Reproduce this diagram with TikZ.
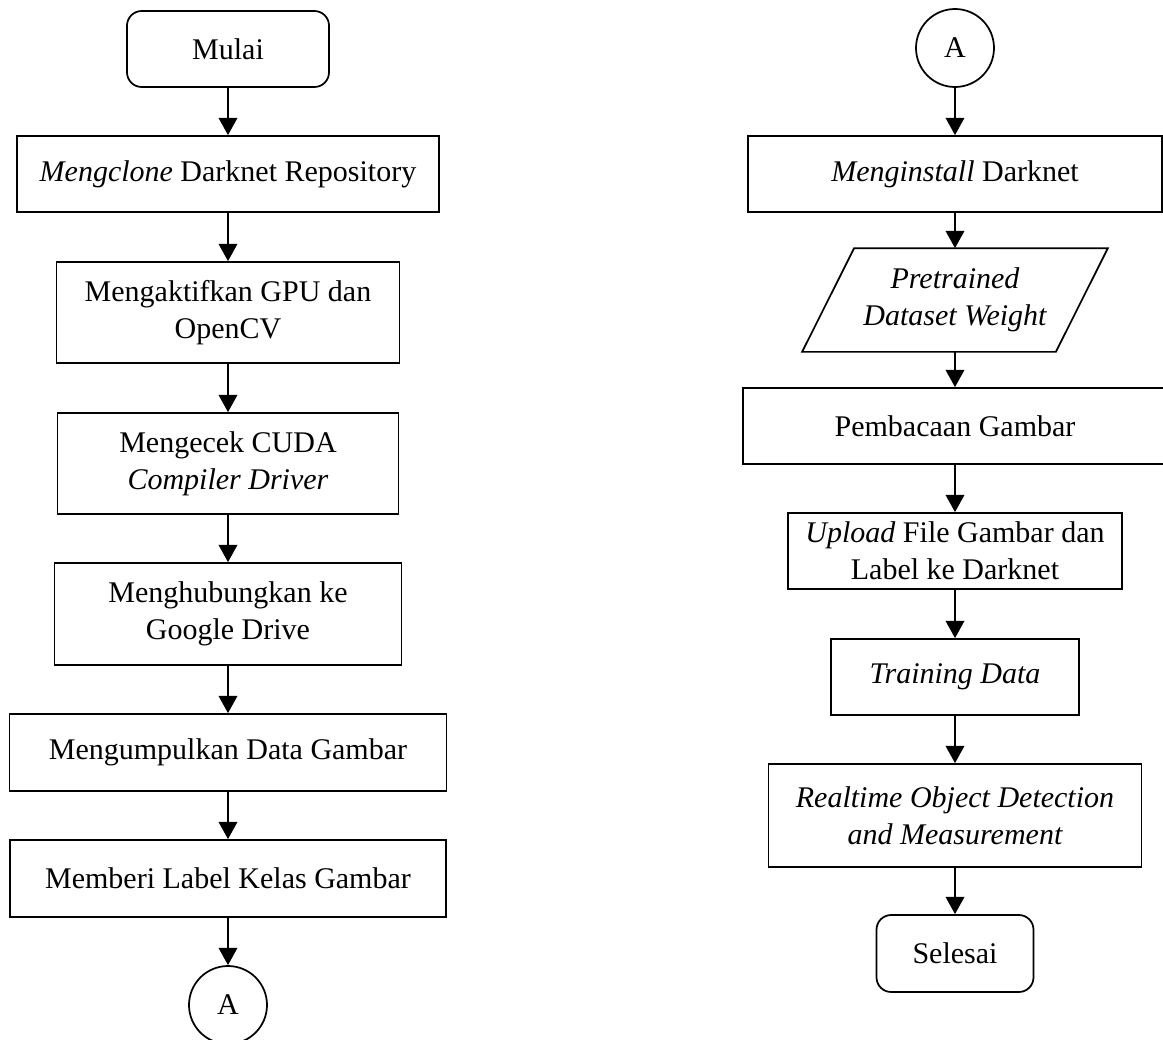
\documentclass[tikz,border=0pt]{standalone}
\usepackage{fontspec}
\setmainfont{Liberation Serif}
\usetikzlibrary{arrows.meta,calc}
\newcommand{\teks}{\fontsize{22.5}{27.5}\selectfont}

\begin{document}
\begin{tikzpicture}[x=0.75pt,y=-0.75pt,font=\teks,line width=1.3pt,
  proses/.style={draw, rectangle, align=center, inner sep=0pt},
  terminal/.style={draw, rectangle, rounded corners=11pt, align=center, inner sep=0pt},
  konektor/.style={draw, circle, minimum size=58.5pt, inner sep=0pt},
  panah/.style={-{Triangle[width=14pt,length=13pt]}}]

\useasboundingbox (0,0) rectangle (1163,1039);

% kolom kiri
\begin{scope}
\node[terminal, minimum width=151.5pt, minimum height=57pt] (mulai) at (228,49) {Mulai};
\node[proses, minimum width=316.5pt, minimum height=57pt] (clone) at (228,174) {\textit{Mengclone} Darknet Repository};
\node[proses, minimum width=257.25pt, minimum height=75.75pt] (gpu) at (228,312.5) {Mengaktifkan GPU dan\\OpenCV};
\node[proses, minimum width=255.75pt, minimum height=75.75pt] (cuda) at (228,463.5) {Mengecek CUDA\\\textit{Compiler Driver}};
\node[proses, minimum width=260.25pt, minimum height=76.5pt] (drive) at (228,614) {Menghubungkan ke\\Google Drive};
\node[proses, minimum width=327.75pt, minimum height=57.75pt] (kumpul) at (228,752.5) {Mengumpulkan Data Gambar};
\node[proses, minimum width=327pt, minimum height=57.75pt] (label) at (228,878.5) {Memberi Label Kelas Gambar};
\node[konektor] (konA) at (228,1005) {A};
\end{scope}

% kolom kanan
\begin{scope}
\node[konektor] (konB) at (955,48) {A};
\node[proses, minimum width=310.5pt, minimum height=57pt] (install) at (955,174) {\textit{Menginstall} Darknet};
\node[inner sep=0pt, minimum width=228pt, minimum height=76.5pt, align=center, font=\teks\itshape] (weight) at (955,300) {Pretrained\\Dataset Weight};
\draw (weight.south west) -- ($(weight.north west)+(52,0)$) -- (weight.north east) -- ($(weight.south east)-(52,0)$) -- cycle;
\node[proses, minimum width=318pt, minimum height=57pt] (baca) at (955,426) {Pembacaan Gambar};
\node[proses, minimum width=250.5pt, minimum height=57pt] (upload) at (955,551) {\textit{Upload} File Gambar dan\\Label ke Darknet};
\node[proses, minimum width=186pt, minimum height=57pt] (train) at (955,677) {\textit{Training Data}};
\node[proses, minimum width=279.75pt, minimum height=77.25pt, font=\teks\itshape] (deteksi) at (955,815.5) {Realtime Object Detection\\and Measurement};
\node[terminal, minimum width=117.75pt, minimum height=57.75pt] (selesai) at (955,953.5) {Selesai};
\end{scope}

\foreach \a/\b in {mulai/clone, clone/gpu, gpu/cuda, cuda/drive, drive/kumpul, kumpul/label, label/konA,
  konB/install, install/weight, weight/baca, baca/upload, upload/train, train/deteksi, deteksi/selesai}
  \draw[panah] (\a.south) -- (\b.north);

\end{tikzpicture}
\end{document}
